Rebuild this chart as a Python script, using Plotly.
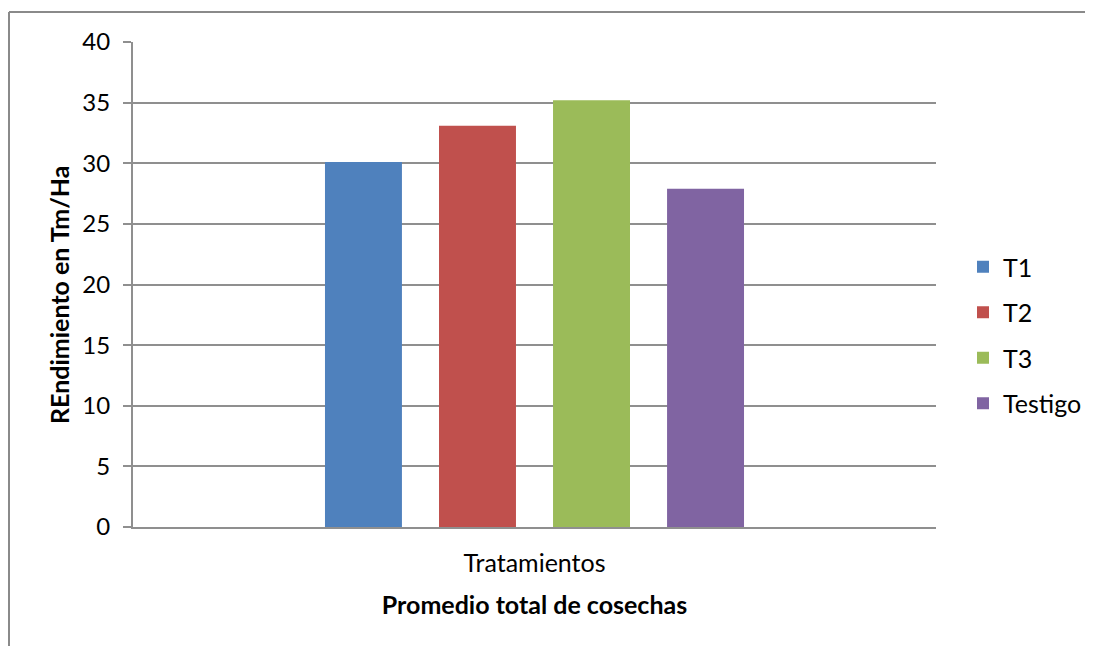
import plotly.graph_objects as go

categories = ["Tratamientos"]
series_names = ["T1", "T2", "T3", "Testigo"]
series_values = [30.1, 33.1, 35.2, 27.9]
colors = ["#4F81BD", "#C0504D", "#9BBB59", "#8064A2"]

# The page body has an 8px margin, so the figure is drawn at (8, 8)
OFF = 8
W, H = 1093 - OFF, 646 - OFF
L, T = 133 - OFF, 42 - OFF
pw, ph = 803, 485
R, B = W - L - pw, H - T - ph

fig = go.Figure()
for i, (name, val) in enumerate(zip(series_names, series_values)):
    fig.add_trace(go.Bar(
        x=categories, y=[val], name=name,
        marker=dict(color=colors[i], line=dict(width=0)),
        legendgroup=name,
    ))

FONT = "Lato"
grid = "#8f8f8f"

def px_x(p):
    # p in window pixels
    return (p - OFF - L) / pw

def px_y(p):
    return (T + ph - (p - OFF)) / ph

fig.update_layout(
    width=W, height=H,
    margin=dict(l=L, r=R, t=T, b=B, autoexpand=False),
    paper_bgcolor="white", plot_bgcolor="white",
    font=dict(family=FONT, color="black", size=25),
    barmode="group", bargap=0.432, bargroupgap=0.325,
    showlegend=True,
    legend=dict(
        x=px_x(963), xanchor="left", y=px_y(335), yanchor="middle",
        font=dict(family=FONT, size=25, color="black"),
        tracegroupgap=10, itemwidth=30, bgcolor="rgba(0,0,0,0)",
    ),
    xaxis=dict(
        showgrid=False, showline=True, linecolor=grid, linewidth=2,
        ticks="outside", ticklen=0, tickcolor="rgba(0,0,0,0)",
        tickfont=dict(family=FONT, size=25),
        ticklabelstandoff=13,
        title=dict(text="<b>Promedio total de cosechas</b>", font=dict(family=FONT, size=25), standoff=20),
    ),
    yaxis=dict(
        range=[0, 40], dtick=5, tick0=0,
        showgrid=True, gridcolor=grid, gridwidth=2,
        showline=True, linecolor=grid, linewidth=2,
        ticks="outside", ticklen=8, tickcolor=grid, tickwidth=2,
        tickfont=dict(family=FONT, size=24),
        ticklabelstandoff=8,
        zeroline=False,
    ),
    annotations=[
        dict(text="<b>REndimiento en Tm/Ha</b>", textangle=-90,
             xref="paper", yref="paper", x=px_x(59), y=px_y(295),
             xanchor="center", yanchor="middle", showarrow=False,
             font=dict(family=FONT, size=25, color="black")),
    ],
    shapes=[
        dict(type="line", xref="paper", yref="paper",
             x0=px_x(9), x1=px_x(1110), y0=px_y(12), y1=px_y(12),
             line=dict(color="#8a8a8a", width=2)),
        dict(type="line", xref="paper", yref="paper",
             x0=px_x(9), x1=px_x(9), y0=px_y(12), y1=px_y(680),
             line=dict(color="#8a8a8a", width=2)),
    ],
)

fig.write_html("out.html")
